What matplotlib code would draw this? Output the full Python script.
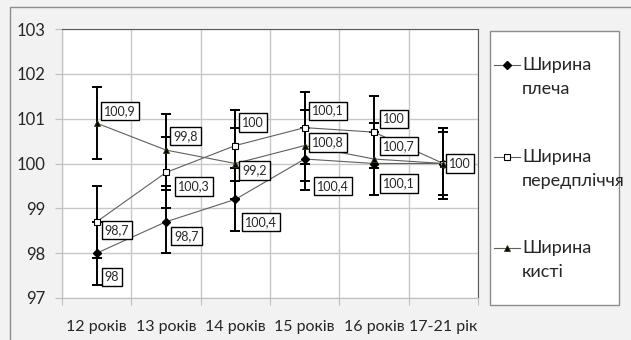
import matplotlib
matplotlib.use("Agg")
import matplotlib.pyplot as plt
from matplotlib.lines import Line2D

plt.rcParams['font.family'] = ['Lato', 'Open Sans', 'DejaVu Sans']

categories = ["12 років", "13 років", "14 років", "15 років", "16 років", "17-21 рік"]
shoulder = [98.0, 98.7, 99.2, 100.1, 100.0, 100.0]
forearm = [98.7, 99.8, 100.4, 100.8, 100.7, 100.0]
hand = [100.9, 100.3, 100.0, 100.4, 100.1, 100.0]
shoulder_err = [0.7, 0.7, 0.7, 0.7, 0.7, 0.7]
forearm_err = [0.8, 0.8, 0.8, 0.8, 0.8, 0.8]
hand_err = [0.8, 0.8, 0.8, 0.8, 0.8, 0.8]
series_names = ["Ширина\nплеча", "Ширина\nпередпліччя", "Ширина\nкисті"]

# data label texts as shown in the chart
shoulder_labels = ["98", "98,7", "100,4", "100,4", "100,1", ""]
forearm_labels = ["98,7", "100,3", "100", "100,1", "100", "100"]
hand_labels = ["100,9", "99,8", "99,2", "100,8", "100,7", ""]
# pixel offsets (dx, dy) of labels relative to their points (style/layout)
shoulder_off = [(8, -24), (8, -14), (10, -23), (12, -27), (9, -20), (0, 0)]
forearm_off = [(8, -8), (12, -14), (7, 23), (7, 17), (9, 13), (6, 0)]
hand_off = [(7, 12), (7, 14), (7, -7), (7, 3), (9, 13), (0, 0)]

W, H = 631, 340
fig = plt.figure(figsize=(W / 100, H / 100), dpi=100)
fig.patch.set_facecolor('#f2f2f2')


def fx(px):
    return px / W


def fy(py):
    return 1 - py / H


# outer chart border
fig.add_artist(plt.Rectangle((fx(10), -0.05), 1.0, fy(7) + 0.05, transform=fig.transFigure,
                             fill=False, edgecolor='#8c8c8c', lw=1.0))

ax = fig.add_axes([fx(62), fy(298), fx(478 - 62), (298 - 29) / H])
ax.set_facecolor('white')
x = list(range(len(categories)))

line_kw = dict(color='#606060', lw=0.8, zorder=3)
err_kw = dict(ecolor='black', elinewidth=1.4, capsize=3.5, capthick=1.4, zorder=2, fmt='none')

for vals, errs in [(shoulder, shoulder_err), (forearm, forearm_err), (hand, hand_err)]:
    ax.errorbar(x, vals, yerr=errs, **err_kw)

styles = [
    dict(marker='D', ms=4, mfc='black', mec='black'),
    dict(marker='s', ms=4.5, mfc='white', mec='black', mew=0.8),
    dict(marker='^', ms=5, mfc='black', mec='#2a3a10', mew=0.6),
]
for vals, st in zip([shoulder, forearm, hand], styles):
    ax.plot(x, vals, **st, **line_kw)

box = dict(boxstyle='square,pad=0.25', fc='white', ec='black', lw=1.0)
for vals, labels, offs in [(shoulder, shoulder_labels, shoulder_off),
                           (forearm, forearm_labels, forearm_off),
                           (hand, hand_labels, hand_off)]:
    for xi, v, lab, (dx, dy) in zip(x, vals, labels, offs):
        if lab:
            ax.annotate(lab, (xi, v), xytext=(dx, dy), textcoords='offset pixels',
                        ha='left', va='center', fontsize=9, color='#262626', bbox=box, zorder=5)

ax.set_xlim(-0.5, len(categories) - 0.5)
ax.set_ylim(97, 103)
ax.set_yticks([97, 98, 99, 100, 101, 102, 103])
ax.set_xticks(x)
ax.set_xticklabels(categories)
ax.set_xticks([i - 0.5 for i in range(len(categories) + 1)], minor=True)
ax.tick_params(axis='x', which='major', length=0, pad=16, labelsize=11.5, colors='#262626')
ax.tick_params(axis='x', which='minor', length=5, color='#bfbfbf', width=0.8)
ax.tick_params(axis='y', length=5, pad=7, labelsize=12, color='#bfbfbf', labelcolor='#262626')
ax.grid(True, axis='y', which='major', color='#c8c8c8', lw=1.0, zorder=0)
ax.grid(True, axis='x', which='minor', color='#c8c8c8', lw=1.0, zorder=0)
ax.set_axisbelow(True)
for side in ['left', 'bottom']:
    ax.spines[side].set_color('#bfbfbf')
for side in ['top', 'right']:
    ax.spines[side].set_color('#595959')
    ax.spines[side].set_linewidth(0.8)

# legend drawn manually (Excel style: marker aligned with first text line)
fig.add_artist(plt.Rectangle((fx(490), fy(305)), fx(619 - 490), (305 - 31) / H,
                             transform=fig.transFigure, fc='white', ec='#8c8c8c', lw=1.0))
entry_y = [65, 157, 248]
for name, st, ey in zip(series_names, styles, entry_y):
    fig.add_artist(Line2D([fx(494), fx(520)], [fy(ey), fy(ey)], transform=fig.transFigure,
                          color='#606060', lw=0.8))
    fig.add_artist(Line2D([fx(507)], [fy(ey)], transform=fig.transFigure, ls='none', **st))
    fig.text(fx(522), fy(ey - 8), name, ha='left', va='top', fontsize=13,
             color='#262626', linespacing=1.6)

fig.savefig('out.png', dpi=100, facecolor=fig.get_facecolor())
